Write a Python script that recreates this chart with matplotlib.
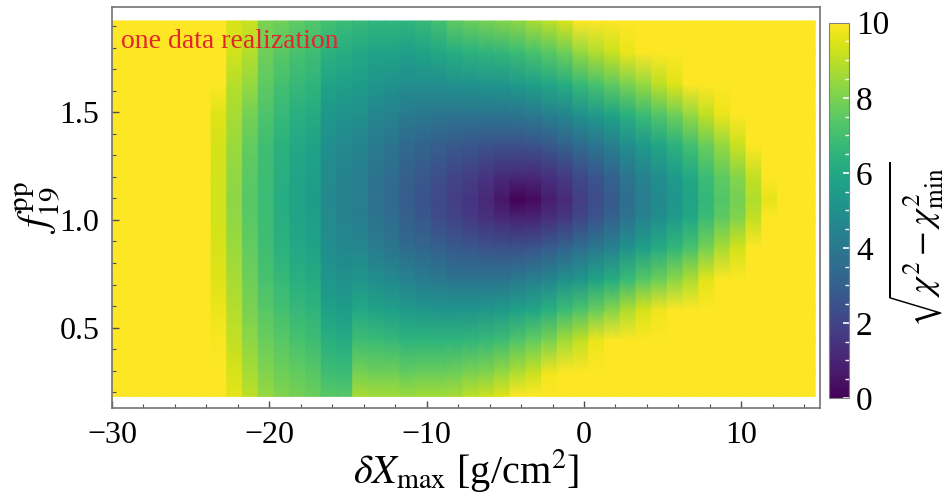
import numpy as np
import matplotlib.pyplot as plt
from matplotlib.ticker import MultipleLocator

plt.rcParams['font.family'] = ['Liberation Serif', 'DejaVu Serif']
plt.rcParams['mathtext.fontset'] = 'stix'

# grid of the scan: one column per delta Xmax step, rows in f19
dxmax_cols = np.arange(-30, 16)
f19_rows = [0.18, 0.29, 0.44, 0.58, 0.72, 0.87, 1.01, 1.095, 1.20, 1.35, 1.49, 1.63, 1.78, 1.925]

# sqrt(chi2 - chi2min), one list per f19 row (columns -30 ... 15)
val_f018 = [10, 10, 10, 10, 10, 10, 10,
            10, 9.6, 9.0, 8.4, 8.1, 7.9, 7.7, 7.4, 7.35,
            8.7, 8.6, 8.6, 8.5, 8.6, 8.6, 8.7, 9.0, 9.2, 9.5,
            10.0, 10.5, 11.1, 11.8, 12, 12, 12,
            12, 12, 12, 12, 12, 12, 12, 12, 12, 12, 10, 10, 10]
val_f029 = [10, 10, 10, 10, 10, 10, 10,
            10, 9.4, 8.7, 8.1, 7.8, 7.6, 7.4, 6.9, 6.8,
            7.9, 7.8, 7.8, 7.6, 7.7, 7.7, 7.8, 8.0, 8.1, 8.4,
            8.8, 9.2, 9.8, 10.4, 11.0, 11.7, 12,
            12, 12, 12, 12, 12, 12, 12, 12, 12, 12, 10, 10, 10]
val_f044 = [10, 10, 10, 10, 10, 10, 10,
            9.9, 9.1, 8.3, 7.7, 7.4, 7.1, 6.9, 6.3, 6.1,
            6.9, 6.8, 6.7, 6.5, 6.5, 6.5, 6.5, 6.6, 6.7, 6.9,
            7.25, 7.6, 8.0, 8.6, 9.1, 9.7, 10.3,
            10.9, 11.5, 12, 12, 12, 12, 12, 12, 12, 12, 10, 10, 10]
val_f058 = [10, 10, 10, 10, 10, 10, 10,
            9.7, 8.9, 8.0, 7.4, 7.0, 6.7, 6.5, 5.7, 5.5,
            6.0, 5.8, 5.6, 5.4, 5.3, 5.2, 5.2, 5.2, 5.3, 5.4,
            5.7, 5.9, 6.3, 6.8, 7.2, 7.7, 8.2,
            8.8, 9.4, 9.8, 10.4, 10.9, 11.6, 12, 12, 12, 12, 10, 10, 10]
val_f072 = [10, 10, 10, 10, 10, 10, 10,
            9.5, 8.7, 7.8, 7.1, 6.7, 6.3, 6.1, 5.25, 5.0,
            5.2, 4.9, 4.7, 4.4, 4.2, 4.1, 3.9, 3.9, 3.9, 3.9,
            4.1, 4.3, 4.6, 5.0, 5.3, 5.8, 6.2,
            6.8, 7.4, 7.8, 8.3, 8.8, 9.6, 10.7, 11.3, 12, 12, 10, 10, 10]
val_f087 = [10, 10, 10, 10, 10, 10, 10,
            9.4, 8.5, 7.6, 6.95, 6.4, 6.0, 5.75, 4.9, 4.65,
            4.6, 4.2, 3.9, 3.5, 3.3, 3.05, 2.8, 2.7, 2.55, 2.5,
            2.5, 2.65, 2.9, 3.2, 3.6, 4.0, 4.4,
            5.1, 5.6, 6.1, 6.6, 7.1, 7.9, 8.7, 9.3, 10.8, 12, 10, 10, 10]
val_f101 = [10, 10, 10, 10, 10, 10, 10,
            9.3, 8.35, 7.45, 6.85, 6.25, 5.85, 5.55, 4.73, 4.43,
            4.25, 3.8, 3.5, 3.0, 2.7, 2.3, 2.0, 1.7, 1.4, 1.1,
            0.95, 1.0, 1.3, 1.6, 2.1, 2.6, 3.1,
            3.8, 4.4, 4.9, 5.4, 6.0, 6.8, 7.5, 8.1, 9.1, 10.3, 10, 10, 10]
val_f1095 = [10, 10, 10, 10, 10, 10, 10,
             9.3, 8.3, 7.4, 6.8, 6.2, 5.8, 5.5, 4.7, 4.4,
             4.2, 3.7, 3.4, 2.9, 2.6, 2.2, 1.8, 1.5, 1.1, 0.6,
             0.05, 0.25, 0.8, 1.2, 1.8, 2.3, 2.8,
             3.6, 4.2, 4.7, 5.2, 5.8, 6.6, 7.3, 7.9, 8.8, 9.6, 10, 10, 10]
val_f120 = [10, 10, 10, 10, 10, 10, 10,
            9.3, 8.35, 7.45, 6.85, 6.25, 5.85, 5.55, 4.75, 4.45,
            4.26, 3.8, 3.5, 3.0, 2.7, 2.4, 2.0, 1.8, 1.5, 1.2,
            1.1, 1.1, 1.4, 1.7, 2.2, 2.65, 3.1,
            3.9, 4.4, 4.9, 5.4, 6.0, 6.8, 7.5, 8.15, 9.1, 10.6, 10, 10, 10]
val_f135 = [10, 10, 10, 10, 10, 10, 10,
            9.35, 8.5, 7.6, 6.95, 6.4, 6.0, 5.75, 4.95, 4.7,
            4.5, 4.1, 3.85, 3.4, 3.2, 3.0, 2.8, 2.7, 2.6, 2.5,
            2.5, 2.6, 2.8, 3.1, 3.5, 3.9, 4.3,
            4.9, 5.4, 5.9, 6.4, 7.0, 7.7, 8.4, 9.2, 10.3, 12, 10, 10, 10]
val_f149 = [10, 10, 10, 10, 10, 10, 10,
            9.5, 8.7, 7.9, 7.2, 6.7, 6.3, 6.1, 5.3, 5.1,
            5.0, 4.6, 4.4, 4.1, 4.0, 3.9, 3.9, 3.9, 3.85, 3.9,
            3.9, 4.1, 4.3, 4.6, 5.1, 5.4, 5.8,
            6.3, 6.8, 7.3, 7.8, 8.4, 9.1, 9.7, 10.6, 12, 12, 10, 10, 10]
val_f163 = [10, 10, 10, 10, 10, 10, 10,
            10, 8.9, 8.4, 7.5, 7.0, 6.7, 6.5, 5.8, 5.6,
            5.5, 5.2, 5.1, 4.9, 4.9, 4.9, 5.0, 5.1, 5.2, 5.2,
            5.4, 5.6, 5.9, 6.2, 6.7, 7.1, 7.5,
            8.0, 8.4, 9.0, 9.5, 10.1, 10.7, 11.7, 12, 12, 12, 10, 10, 10]
val_f178 = [10, 10, 10, 10, 10, 10, 10,
            10, 9.3, 8.9, 7.8, 7.4, 7.1, 6.9, 6.4, 6.2,
            6.0, 5.8, 5.8, 5.6, 5.8, 6.0, 6.2, 6.4, 6.5, 6.6,
            6.8, 7.1, 7.4, 7.8, 8.4, 8.8, 9.2,
            9.7, 10.1, 10.7, 11.3, 11.9, 12, 12, 12, 12, 12, 10, 10, 10]
val_f1925 = [10, 10, 10, 10, 10, 10, 10,
             10, 9.4, 9.2, 8.0, 7.8, 7.5, 7.3, 7.0, 6.8,
             6.7, 6.5, 6.5, 6.5, 6.7, 7.0, 7.5, 7.7, 7.9, 8.1,
             8.3, 8.7, 9.0, 9.4, 10.2, 10.6, 11.1,
             11.6, 12, 12, 12, 12, 12, 12, 12, 12, 12, 10, 10, 10]

vals = np.array([val_f018, val_f029, val_f044, val_f058, val_f072, val_f087, val_f101,
                 val_f1095, val_f120, val_f135, val_f149, val_f163, val_f178, val_f1925])

# columns are sharp in x, smooth in f: same value on both edges of a column
x_left = dxmax_cols - 0.7
x_right = np.minimum(dxmax_cols + 0.3, 14.7)
nrow, ncol = vals.shape
X = np.empty((nrow, 2 * ncol))
X[:, 0::2] = x_left
X[:, 1::2] = x_right
Y = np.repeat(np.array(f19_rows)[:, None], 2 * ncol, axis=1)
C = np.repeat(vals, 2, axis=1)

fig = plt.figure(figsize=(9.45, 4.96), dpi=100)
ax = fig.add_axes([0.1185, 0.1774, 0.7492, 0.8085])
mesh = ax.pcolormesh(X, Y, C, cmap='viridis', vmin=0, vmax=10, shading='gouraud')

ax.set_xlim(-30, 15)
ax.set_ylim(0.126, 1.99)
ax.xaxis.set_major_locator(MultipleLocator(10))
ax.xaxis.set_minor_locator(MultipleLocator(2))
ax.yaxis.set_major_locator(MultipleLocator(0.5))
ax.yaxis.set_minor_locator(MultipleLocator(0.1))
ax.tick_params(which='both', direction='in', color='0.3', labelsize=23)
ax.tick_params(which='major', length=5, width=1.0)
ax.tick_params(which='minor', length=3, width=0.8)
ax.tick_params(axis='x', pad=9)
ax.tick_params(axis='y', pad=9)
for s in ax.spines.values():
    s.set_color('0.45')
    s.set_linewidth(1.2)

ax.set_xlabel(r'$\delta X_{\rm max}$ [g/cm$^2$]', fontsize=29, labelpad=-2)
ax.set_ylabel(r'$f_{19}^{\rm pp}$', fontsize=30, labelpad=-2)

ax.text(-29.45, 1.8, 'one data realization', color='#e3262b', fontsize=20)

cax = fig.add_axes([0.8776, 0.1976, 0.0208, 0.7566])
cb = fig.colorbar(mesh, cax=cax)
cb.set_ticks([0, 2, 4, 6, 8, 10])
cb.ax.yaxis.set_minor_locator(MultipleLocator(0.5))
cb.ax.tick_params(which='both', direction='in', color='white', labelsize=24, pad=5)
cb.ax.tick_params(which='major', length=4, width=1.2)
cb.ax.tick_params(which='minor', length=3, width=1.0)
cb.outline.set_edgecolor('0.5')
cb.outline.set_linewidth(0.8)
cb.set_label(r'$\sqrt{\chi^2-\chi^2_{\rm min}}$', fontsize=26, labelpad=-2)
cb.ax.yaxis.label.set_y(0.41)

fig.savefig('out.png', dpi=100)
